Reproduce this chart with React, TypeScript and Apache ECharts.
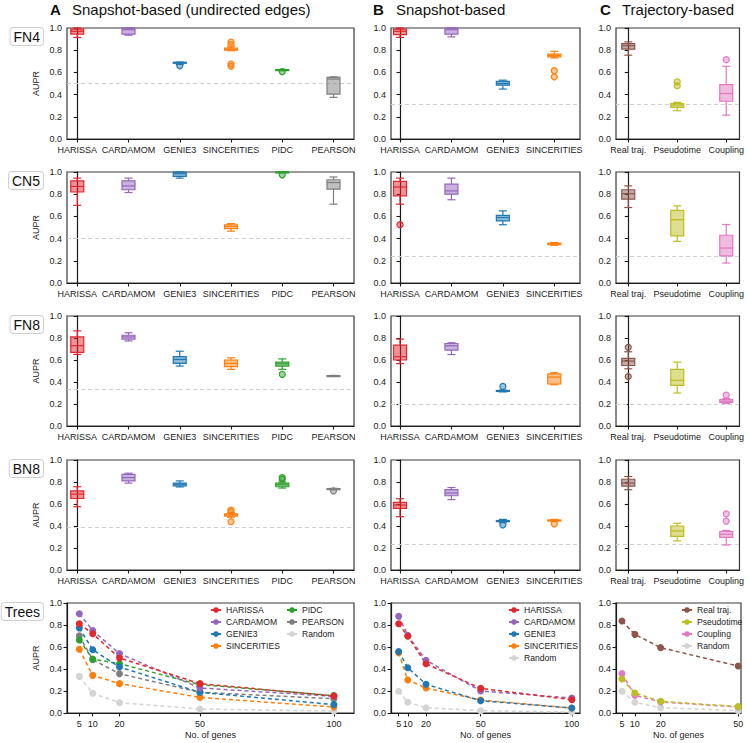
import React, { useEffect, useRef } from "react";
import * as echarts from "echarts";

const FONT = '"Liberation Sans", Arial, Helvetica, sans-serif';

// ---------- categories ----------
const catsA = ["HARISSA", "CARDAMOM", "GENIE3", "SINCERITIES", "PIDC", "PEARSON"];
const catsB = ["HARISSA", "CARDAMOM", "GENIE3", "SINCERITIES"];
const catsC = ["Real traj.", "Pseudotime", "Coupling"];
const rowLabels = ["FN4", "CN5", "FN8", "BN8", "Trees"];
const colTitles = [
  ["A", "Snapshot-based (undirected edges)"],
  ["B", "Snapshot-based"],
  ["C", "Trajectory-based"],
];

// ---------- colours ----------
const methodColors: Record<string, string> = {
  HARISSA: "#e3272e",
  CARDAMOM: "#9467bd",
  GENIE3: "#1f77b4",
  SINCERITIES: "#ff7f0e",
  PIDC: "#2ca02c",
  PEARSON: "#7f7f7f",
  "Real traj.": "#8c564b",
  Pseudotime: "#bcbd22",
  Coupling: "#e377c2",
  Random: "#d4d4d4",
};

// ---------- box data: [min, q1, median, q3, max] ----------
const fn4A = [
  [0.915, 0.945, 0.97, 0.99, 1.0],
  [0.935, 0.945, 0.985, 1.0, 1.0],
  [0.672, 0.686, 0.689, 0.691, 0.693],
  [0.795, 0.8, 0.81, 0.82, 0.83],
  [0.616, 0.62, 0.623, 0.625, 0.627],
  [0.375, 0.405, 0.54, 0.555, 0.56],
];
const fn4AOut = [[2, 0.66], [3, 0.873], [3, 0.85], [3, 0.675], [3, 0.657], [4, 0.607]];
const fn4B = [
  [0.915, 0.94, 0.97, 0.99, 1.0],
  [0.92, 0.945, 0.985, 1.0, 1.0],
  [0.45, 0.485, 0.5, 0.52, 0.53],
  [0.73, 0.74, 0.752, 0.765, 0.79],
];
const fn4BOut = [[3, 0.615], [3, 0.56]];
const fn4C = [
  [0.755, 0.81, 0.84, 0.86, 0.875],
  [0.255, 0.285, 0.305, 0.32, 0.33],
  [0.215, 0.34, 0.41, 0.49, 0.655],
];
const fn4COut = [[1, 0.515], [1, 0.48], [2, 0.715]];

const cn5A = [
  [0.7, 0.82, 0.87, 0.92, 0.945],
  [0.815, 0.84, 0.875, 0.92, 0.945],
  [0.945, 0.96, 0.985, 1.0, 1.0],
  [0.467, 0.49, 0.51, 0.525, 0.535],
  [0.995, 1.0, 1.0, 1.0, 1.0],
  [0.71, 0.845, 0.905, 0.93, 0.955],
];
const cn5AOut = [[4, 0.975]];
const cn5B = [
  [0.71, 0.785, 0.865, 0.915, 0.945],
  [0.75, 0.8, 0.83, 0.89, 0.945],
  [0.525, 0.56, 0.59, 0.61, 0.65],
  [0.34, 0.345, 0.352, 0.36, 0.365],
];
const cn5BOut = [[0, 0.525]];
const cn5C = [
  [0.68, 0.755, 0.805, 0.84, 0.875],
  [0.375, 0.425, 0.57, 0.655, 0.695],
  [0.18, 0.245, 0.315, 0.43, 0.527],
];
const cn5COut: number[][] = [];

const fn8A = [
  [0.65, 0.67, 0.73, 0.81, 0.865],
  [0.773, 0.79, 0.81, 0.825, 0.848],
  [0.545, 0.57, 0.605, 0.63, 0.68],
  [0.515, 0.54, 0.57, 0.6, 0.62],
  [0.515, 0.545, 0.565, 0.58, 0.61],
  [0.45, 0.452, 0.455, 0.458, 0.46],
];
const fn8AOut = [[4, 0.47]];
const fn8B = [
  [0.567, 0.6, 0.63, 0.735, 0.79],
  [0.65, 0.69, 0.73, 0.75, 0.757],
  [0.31, 0.315, 0.32, 0.323, 0.327],
  [0.375, 0.382, 0.445, 0.473, 0.485],
];
const fn8BOut = [[2, 0.36]];
const fn8C = [
  [0.52, 0.55, 0.59, 0.615, 0.675],
  [0.3, 0.37, 0.415, 0.515, 0.58],
  [0.205, 0.215, 0.225, 0.24, 0.25],
];
const fn8COut = [[0, 0.715], [0, 0.45], [2, 0.28]];

const bn8A = [
  [0.575, 0.65, 0.69, 0.72, 0.757],
  [0.79, 0.81, 0.84, 0.87, 0.88],
  [0.755, 0.765, 0.78, 0.79, 0.81],
  [0.48, 0.49, 0.5, 0.51, 0.52],
  [0.745, 0.757, 0.775, 0.79, 0.8],
  [0.73, 0.733, 0.735, 0.74, 0.742],
];
const bn8AOut = [[3, 0.545], [3, 0.53], [3, 0.44], [4, 0.84], [4, 0.825], [5, 0.72]];
const bn8B = [
  [0.485, 0.56, 0.59, 0.615, 0.648],
  [0.64, 0.675, 0.7, 0.73, 0.75],
  [0.43, 0.44, 0.445, 0.45, 0.46],
  [0.44, 0.445, 0.45, 0.455, 0.46],
];
const bn8BOut = [[2, 0.41], [3, 0.42]];
const bn8C = [
  [0.73, 0.763, 0.79, 0.825, 0.85],
  [0.265, 0.305, 0.355, 0.4, 0.425],
  [0.227, 0.297, 0.325, 0.35, 0.36],
];
const bn8COut = [[2, 0.51], [2, 0.445]];

// random baselines per row (A, B, C)
const fn4Random = [0.5, 0.31, 0.31];
const cn5Random = [0.4, 0.237, 0.237];
const fn8Random = [0.333, 0.2, 0.2];
const bn8Random = [0.39, 0.233, 0.233];

// ---------- trees (line charts) ----------
const genesAB = [5, 10, 20, 50, 100];
const genesC = [5, 10, 20, 50];
const treesA: Record<string, number[]> = {
  Random: [0.333, 0.179, 0.094, 0.036, 0.018],
  PEARSON: [0.703, 0.485, 0.357, 0.188, 0.13],
  PIDC: [0.664, 0.49, 0.448, 0.258, 0.158],
  SINCERITIES: [0.579, 0.342, 0.267, 0.142, 0.055],
  GENIE3: [0.773, 0.575, 0.418, 0.188, 0.076],
  CARDAMOM: [0.903, 0.75, 0.54, 0.227, 0.152],
  HARISSA: [0.812, 0.72, 0.5, 0.267, 0.155],
};
const treesB: Record<string, number[]> = {
  Random: [0.197, 0.097, 0.048, 0.021, 0.009],
  SINCERITIES: [0.548, 0.3, 0.227, 0.118, 0.045],
  GENIE3: [0.558, 0.412, 0.261, 0.112, 0.045],
  CARDAMOM: [0.879, 0.706, 0.479, 0.2, 0.136],
  HARISSA: [0.812, 0.697, 0.448, 0.224, 0.121],
};
const treesC: Record<string, number[]> = {
  Random: [0.197, 0.097, 0.048, 0.021],
  Coupling: [0.358, 0.161, 0.1, 0.055],
  Pseudotime: [0.309, 0.182, 0.106, 0.058],
  "Real traj.": [0.836, 0.715, 0.594, 0.427],
};
const legendA1 = ["HARISSA", "CARDAMOM", "GENIE3", "SINCERITIES"];
const legendA2 = ["PIDC", "PEARSON", "Random"];
const legendB = ["HARISSA", "CARDAMOM", "GENIE3", "SINCERITIES", "Random"];
const legendC = ["Real traj.", "Pseudotime", "Coupling", "Random"];

// ---------- layout ----------
const colLeft = [67, 391, 616];
const colWidth = [287, 189, 125];
const rowTop = [28, 172, 316, 460, 603];
const rowHeight = [111, 111, 110, 110, 110];
const boxXRange = [
  [-0.2, 5.4],
  [-0.175, 3.5],
  [-0.25, 2.27],
];
const lineXRange = [
  [0.4, 107.5],
  [0.8, 104.5],
  [2.7, 51.1],
];

function rgba(hex: string, a: number) {
  const n = parseInt(hex.slice(1), 16);
  return `rgba(${(n >> 16) & 255},${(n >> 8) & 255},${n & 255},${a})`;
}

function buildOption() {
  const grid: any[] = [];
  const xAxis: any[] = [];
  const yAxis: any[] = [];
  const series: any[] = [];
  const graphic: any[] = [];

  const boxRows = [
    { boxes: [fn4A, fn4B, fn4C], outs: [fn4AOut, fn4BOut, fn4COut], rnd: fn4Random },
    { boxes: [cn5A, cn5B, cn5C], outs: [cn5AOut, cn5BOut, cn5COut], rnd: cn5Random },
    { boxes: [fn8A, fn8B, fn8C], outs: [fn8AOut, fn8BOut, fn8COut], rnd: fn8Random },
    { boxes: [bn8A, bn8B, bn8C], outs: [bn8AOut, bn8BOut, bn8COut], rnd: bn8Random },
  ];
  const colCats = [catsA, catsB, catsC];

  const axisLine = { show: true, lineStyle: { color: "#1a1a1a", width: 1.2 } };
  const axisTick = { show: true, length: 3.5, lineStyle: { color: "#1a1a1a", width: 1.1 } };
  const labelStyle = { fontSize: 9, color: "#222", fontFamily: FONT };

  for (let r = 0; r < 5; r++) {
    for (let c = 0; c < 3; c++) {
      const g = r * 3 + c;
      grid.push({
        left: colLeft[c],
        top: rowTop[r],
        width: colWidth[c],
        height: rowHeight[r],
        show: true,
        borderColor: "#3a3a3a",
        borderWidth: 1.2,
        backgroundColor: "transparent",
        containLabel: false,
      });
      yAxis.push({
        type: "value",
        gridIndex: g,
        min: 0,
        max: 1,
        interval: 0.2,
        axisLine,
        axisTick,
        splitLine: { show: false },
        axisLabel: { ...labelStyle, margin: 5, formatter: (v: number) => v.toFixed(1) },
        name: c === 0 ? "AUPR" : "",
        nameLocation: "middle",
        nameGap: 27,
        nameRotate: 90,
        nameTextStyle: { ...labelStyle },
      });
      if (r < 4) {
        const cats = colCats[c];
        const idx = cats.map((_, i) => i);
        xAxis.push({
          type: "value",
          gridIndex: g,
          min: boxXRange[c][0],
          max: boxXRange[c][1],
          axisLine,
          axisTick: { ...axisTick, customValues: idx },
          splitLine: { show: false },
          axisLabel: {
            ...labelStyle,
            margin: 6,
            customValues: idx,
            formatter: (v: number) => cats[Math.round(v)] ?? "",
          },
        });
        const colors = cats.map((k) => methodColors[k]);
        const row = boxRows[r];
        series.push({
          type: "custom",
          name: `box-${r}-${c}`,
          xAxisIndex: g,
          yAxisIndex: g,
          data: row.boxes[c].map((b, i) => [i, ...b]),
          encode: { x: 0, y: [1, 2, 3, 4, 5] },
          z: 3,
          renderItem: (params: any, api: any) => {
            const i = api.value(0);
            const p = [1, 2, 3, 4, 5].map((k) => api.coord([i, api.value(k)]));
            const cx = p[0][0];
            const col = colors[params.dataIndex];
            const st = { stroke: col, lineWidth: 1.2, fill: null };
            const hw = 6.5;
            const cw = 4;
            return {
              type: "group",
              children: [
                { type: "line", shape: { x1: cx, y1: p[0][1], x2: cx, y2: p[1][1] }, style: st },
                { type: "line", shape: { x1: cx, y1: p[3][1], x2: cx, y2: p[4][1] }, style: st },
                { type: "line", shape: { x1: cx - cw, y1: p[0][1], x2: cx + cw, y2: p[0][1] }, style: st },
                { type: "line", shape: { x1: cx - cw, y1: p[4][1], x2: cx + cw, y2: p[4][1] }, style: st },
                {
                  type: "rect",
                  shape: { x: cx - hw, y: p[3][1], width: 2 * hw, height: Math.max(p[1][1] - p[3][1], 1) },
                  style: { fill: rgba(col, 0.5), stroke: col, lineWidth: 1.2 },
                },
                { type: "line", shape: { x1: cx - hw, y1: p[2][1], x2: cx + hw, y2: p[2][1] }, style: st },
              ],
            };
          },
          markLine: {
            silent: true,
            symbol: "none",
            label: { show: false },
            z: 1,
            lineStyle: { color: "#cfcfcf", type: [4, 3], width: 1 },
            data: [{ yAxis: row.rnd[c] }],
          },
        });
        series.push({
          type: "custom",
          name: `out-${r}-${c}`,
          xAxisIndex: g,
          yAxisIndex: g,
          data: row.outs[c],
          encode: { x: 0, y: 1 },
          z: 4,
          renderItem: (params: any, api: any) => {
            const i = api.value(0);
            const pt = api.coord([i, api.value(1)]);
            const col = colors[Math.round(i)];
            return {
              type: "circle",
              shape: { cx: pt[0], cy: pt[1], r: 3 },
              style: { fill: rgba(col, 0.45), stroke: col, lineWidth: 1.2 },
            };
          },
        });
      } else {
        const xs = c === 2 ? genesC : genesAB;
        xAxis.push({
          type: "value",
          gridIndex: g,
          min: lineXRange[c][0],
          max: lineXRange[c][1],
          axisLine,
          axisTick: { ...axisTick, customValues: xs },
          splitLine: { show: false },
          axisLabel: { ...labelStyle, margin: 6, customValues: xs, formatter: (v: number) => String(v) },
          name: "No. of genes",
          nameLocation: "middle",
          nameGap: 17,
          nameTextStyle: { ...labelStyle },
        });
        const tr = c === 0 ? treesA : c === 1 ? treesB : treesC;
        Object.keys(tr).forEach((name) => {
          const col = methodColors[name];
          series.push({
            type: "line",
            name,
            xAxisIndex: g,
            yAxisIndex: g,
            data: xs.map((x, i) => [x, tr[name][i]]),
            symbol: "circle",
            symbolSize: 7,
            itemStyle: { color: col },
            lineStyle: { color: col, width: 1.5, type: [4, 3] },
            z: 3,
          });
        });
      }
    }
  }

  // column titles
  const titleX = [
    [50, 72],
    [373, 396],
    [600, 622],
  ];
  colTitles.forEach(([letter, text], c) => {
    graphic.push({
      type: "text",
      x: titleX[c][0],
      y: 9,
      style: { text: letter, fontSize: 15, fontWeight: "bold", fill: "#111", fontFamily: FONT, verticalAlign: "middle" },
    });
    graphic.push({
      type: "text",
      x: titleX[c][1],
      y: 9,
      style: { text, fontSize: 15, fill: "#111", fontFamily: FONT, verticalAlign: "middle" },
    });
  });
  // row labels
  rowLabels.forEach((lab, r) => {
    graphic.push({
      type: "text",
      x: 43,
      y: rowTop[r],
      style: {
        text: lab,
        fontSize: 14,
        fill: "#111",
        fontFamily: FONT,
        align: "right",
        verticalAlign: "top",
        backgroundColor: "#fff",
        borderColor: "#cfcfcf",
        borderWidth: 1,
        borderRadius: 3,
        padding: [2, 3, 1, 3],
      },
    });
  });

  const legendBase = {
    orient: "vertical",
    padding: 0,
    itemGap: 0,
    itemWidth: 10,
    itemHeight: 7,
    top: 604,
    lineStyle: { type: "solid" },
    textStyle: { fontSize: 8.6, color: "#222", fontFamily: FONT, lineHeight: 12 },
  };
  const legend = [
    { ...legendBase, left: 210, data: legendA1 },
    { ...legendBase, left: 286, data: legendA2 },
    { ...legendBase, left: 508, data: legendB },
    { ...legendBase, left: 681, data: legendC },
  ];

  return {
    animation: false,
    backgroundColor: "#fff",
    textStyle: { fontFamily: FONT },
    grid,
    xAxis,
    yAxis,
    series,
    legend,
    graphic,
  };
}

export default function App() {
  const ref = useRef<HTMLDivElement>(null);
  useEffect(() => {
    if (!ref.current) return;
    const chart = echarts.init(ref.current, null, { renderer: "svg" });
    chart.setOption(buildOption() as any);
    return () => chart.dispose();
  }, []);
  return (
    <div
      ref={ref}
      style={{ position: "fixed", left: 0, top: 0, width: 747, height: 743, background: "#fff" }}
    />
  );
}
